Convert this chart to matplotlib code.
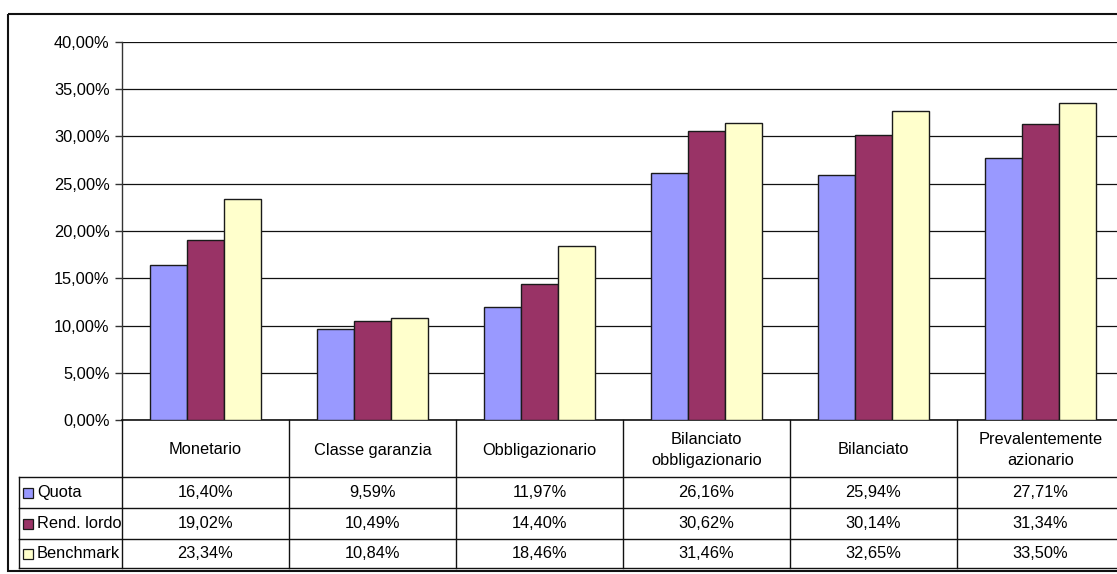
import matplotlib
matplotlib.use("Agg")
import matplotlib.pyplot as plt
import matplotlib.transforms as mtransforms
from matplotlib.patches import Rectangle
from matplotlib.ticker import FuncFormatter, MultipleLocator

# Data
categories = ["Monetario", "Classe garanzia", "Obbligazionario",
              "Bilanciato\nobbligazionario", "Bilanciato",
              "Prevalentemente\nazionario"]
series_names = ["Quota", "Rend. lordo", "Benchmark"]
quota = [16.40, 9.59, 11.97, 26.16, 25.94, 27.71]
rend_lordo = [19.02, 10.49, 14.40, 30.62, 30.14, 31.34]
benchmark = [23.34, 10.84, 18.46, 31.46, 32.65, 33.50]
series_values = [quota, rend_lordo, benchmark]
colors = ["#9999FF", "#993366", "#FFFFCC"]

FONT = ["Liberation Sans", "DejaVu Sans"]
plt.rcParams["font.family"] = FONT
FS = 11.8

W, H = 1117, 574
fig = plt.figure(figsize=(W / 100, H / 100), dpi=100)

# pixel transform with the origin at the top-left corner of the figure
pix = mtransforms.Affine2D().scale(1 / W, -1 / H).translate(0, 1) + fig.transFigure

x0, x1 = 122, 1124   # plot area, left and right (the right edge runs past the figure)
y_top, y_zero = 42, 420
ax = fig.add_axes([x0 / W, (H - y_zero) / H, (x1 - x0) / W, (y_zero - y_top) / H])

n = len(categories)
bar_w = 0.2216
offsets = [-bar_w, 0.0, bar_w]
for vals, col, off in zip(series_values, colors, offsets):
    xs = [i + 0.5 + off for i in range(n)]
    # soft grey shadow on the right of each bar
    ax.bar([x + 0.006 for x in xs], vals, width=bar_w, color="#9a9a9a",
           edgecolor="none", zorder=2)
    ax.bar(xs, vals, width=bar_w, color=col, edgecolor="#1a1a1a",
           linewidth=1.0, zorder=3)

ax.set_xlim(0, n)
ax.set_ylim(0, 40)
ax.yaxis.set_major_locator(MultipleLocator(5))
ax.yaxis.set_major_formatter(FuncFormatter(lambda v, p: f"{v:.2f}".replace(".", ",") + "%"))
ax.set_xticks([])
ax.tick_params(axis="y", direction="out", length=5, width=1, color="#333333",
               labelsize=FS, pad=4)
ax.grid(axis="y", color="#111111", linewidth=0.9, zorder=0)
ax.set_axisbelow(True)
for s in ("top", "right"):
    ax.spines[s].set_visible(False)
ax.spines["left"].set_color("#333333")
ax.spines["bottom"].set_color("#111111")
ax.spines["left"].set_linewidth(1.0)
ax.spines["bottom"].set_linewidth(1.2)

# Data table below the plot: x in category units, y in pixels
tb = mtransforms.blended_transform_factory(ax.transData, pix)
tp = pix
row_lines = [477, 508, 539, 568]
header_mid = 450
row_mids = [(row_lines[k] + row_lines[k + 1]) / 2 for k in range(3)]
leg_left = 19

line_kw = dict(color="#111111", linewidth=1.0, clip_on=False)
# horizontal rules
for y in row_lines:
    fig.add_artist(plt.Line2D([leg_left, x1], [y, y], transform=tp, **line_kw))
# vertical rules between categories
for i in range(0, n + 1):
    fig.add_artist(plt.Line2D([i, i], [y_zero, row_lines[-1]], transform=tb, **line_kw))
# legend column left edge
fig.add_artist(plt.Line2D([leg_left, leg_left], [row_lines[0], row_lines[-1]], transform=tp, **line_kw))

# header row with category names
for i, cat in enumerate(categories):
    fig.text(i + 0.5, header_mid, cat, transform=tb, ha="center", va="center",
             fontsize=FS, linespacing=1.55)

# series rows: legend key, name and values
for k, (name, vals, col) in enumerate(zip(series_names, series_values, colors)):
    ym = row_mids[k]
    fig.add_artist(Rectangle((23, ym - 5), 10, 10, transform=tp, facecolor=col,
                             edgecolor="#1a1a1a", linewidth=0.9))
    fig.text(37, ym, name, transform=tp, ha="left", va="center", fontsize=FS)
    for i, v in enumerate(vals):
        fig.text(i + 0.5, ym, f"{v:.2f}".replace(".", ",") + "%", transform=tb,
                 ha="center", va="center", fontsize=FS)

# outer chart border
fig.add_artist(Rectangle((8, 14), 1130, 557, transform=tp, facecolor="none",
                         edgecolor="#111111", linewidth=1.5))

fig.savefig("out.png", dpi=100)
